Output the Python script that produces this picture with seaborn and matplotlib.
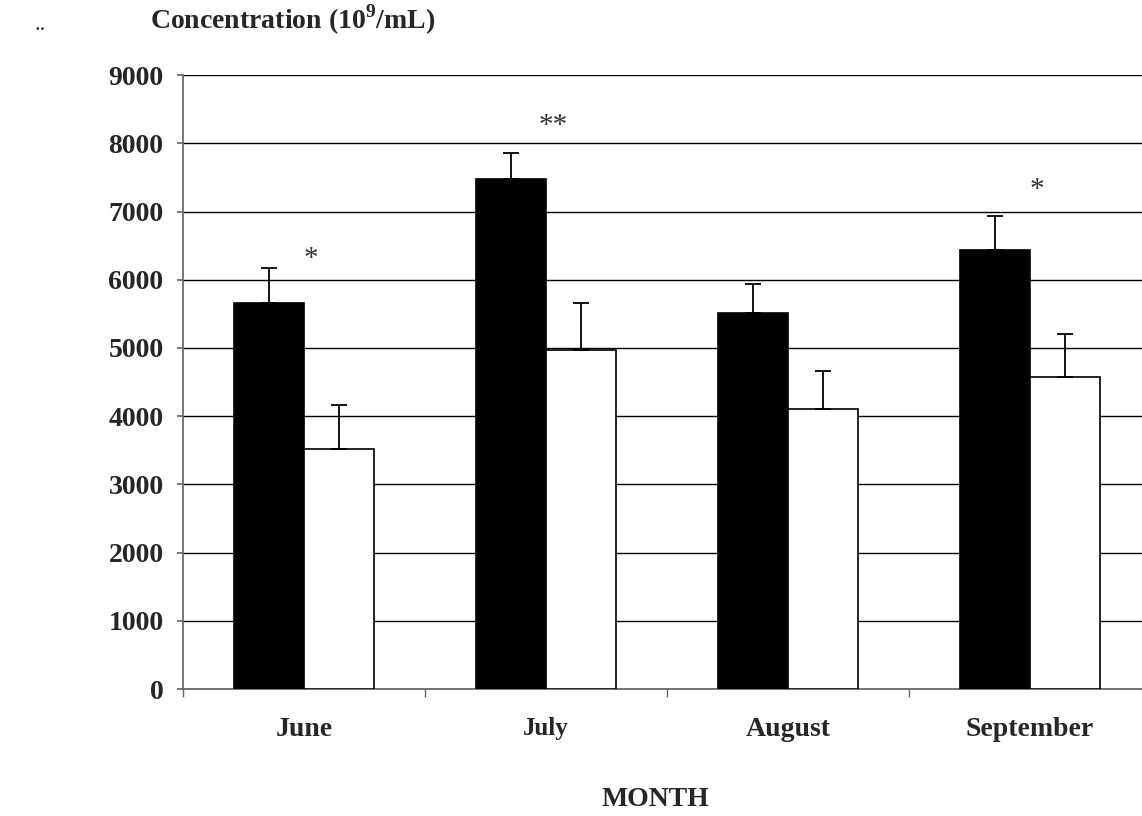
import numpy as np
import pandas as pd
import matplotlib.pyplot as plt
import seaborn as sns

# Monthly concentration, two groups (black / white bars)
months = ["June", "July", "August", "September"]
group_a = [5660, 7470, 5510, 6440]
group_b = [3520, 4970, 4100, 4570]
err_a = [510, 390, 430, 490]
err_b = [640, 690, 560, 640]
stars = ["*", "**", "", "*"]
star_y = [6300, 8250, 0, 7320]

sns.set_theme(style="white")
plt.rcParams['font.family'] = ['Liberation Serif', 'DejaVu Serif']
plt.rcParams['mathtext.fontset'] = 'custom'
plt.rcParams['mathtext.bf'] = 'Liberation Serif:bold'
plt.rcParams['mathtext.rm'] = 'Liberation Serif'

df = pd.DataFrame({
    "month": months * 2,
    "value": group_a + group_b,
    "group": ["A"] * 4 + ["B"] * 4,
})

fig = plt.figure(figsize=(11.42, 8.16), dpi=100)
ax = fig.add_axes([0.1602, 0.1556, 0.8476, 0.7524])

sns.barplot(data=df, x="month", y="value", hue="group", order=months,
            palette={"A": "black", "B": "white"}, width=0.58, gap=0,
            edgecolor="black", linewidth=1.2, errorbar=None, legend=False,
            ax=ax, zorder=3)

# error bars (upper only) on bar centres
errs = err_a + err_b
vals = group_a + group_b
for p, v, e in zip(ax.patches, vals, errs):
    xc = p.get_x() + p.get_width() / 2
    ax.errorbar(xc, v, yerr=[[0], [e]], fmt="none", ecolor="black",
                elinewidth=1.3, capsize=6, capthick=1.3, zorder=4)

for i, (s, sy) in enumerate(zip(stars, star_y)):
    if s:
        ax.text(i + 0.03, sy, s, ha="center", va="center", fontsize=21,
                color="#333333")

ax.set_ylim(0, 9000)
ax.set_xlim(-0.5, 3.5)
ax.set_yticks(np.arange(0, 9001, 1000))
ax.yaxis.grid(True, color="black", linewidth=1.0, zorder=0)
ax.set_axisbelow(True)
for t in ax.get_yticklabels():
    t.set_fontweight("bold")
    t.set_fontsize(20)
ax.tick_params(axis="y", left=True, length=4, color="#666666", pad=10)

# category boundary ticks on x
ax.set_xticks(np.arange(-0.5, 3.6, 1), minor=True)
ax.tick_params(axis="x", which="minor", bottom=True, length=6, color="#666666")
ax.tick_params(axis="x", which="major", bottom=False, pad=14)
ax.set_xticklabels(months, fontweight="bold", fontsize=20)
ax.get_xticklabels()[1].set_fontsize(18)

for side in ["top", "right"]:
    ax.spines[side].set_visible(False)
ax.spines["left"].set_color("#666666")
ax.spines["bottom"].set_color("#666666")

ax.set_xlabel("")
ax.set_ylabel("")
fig.text(655 / 1142, 1 - 800 / 816, "MONTH", ha="center", va="center",
         fontsize=20, fontweight="bold")
fig.text(150 / 1142, 1 - 20 / 816, r"Concentration (10$^{\mathbf{9}}$/mL)",
         ha="left", va="center", fontsize=20, fontweight="bold")
fig.text(34 / 1142, 1 - 26 / 816, "..", ha="left", va="center", fontsize=16)

plt.savefig("out.png", dpi=100)
